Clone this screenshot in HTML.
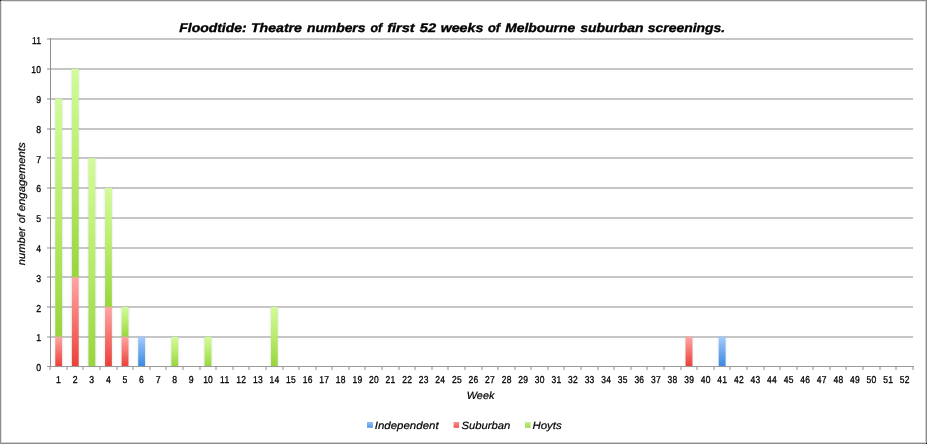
<!DOCTYPE html>
<html><head><meta charset="utf-8"><title>Floodtide chart</title>
<style>html,body{margin:0;padding:0;background:#fff;}body{width:927px;height:444px;overflow:hidden;position:relative;font-family:"Liberation Sans",sans-serif;}svg{position:absolute;left:0;top:0;display:block;will-change:transform}text{font-family:"Liberation Sans",sans-serif;fill:#000;text-rendering:geometricPrecision}</style></head><body>
<svg width="927" height="444" viewBox="0 0 927 444">
<defs>
<linearGradient id="gI" x1="0" y1="0" x2="0" y2="1"><stop offset="0" stop-color="#a4cafc"/><stop offset="1" stop-color="#3988e0"/></linearGradient>
<linearGradient id="gS" x1="0" y1="0" x2="0" y2="1"><stop offset="0" stop-color="#ffa6a4"/><stop offset="1" stop-color="#ea4036"/></linearGradient>
<linearGradient id="gH" x1="0" y1="0" x2="0" y2="1"><stop offset="0" stop-color="#d2fb9a"/><stop offset="0.45" stop-color="#bbed6f"/><stop offset="1" stop-color="#99d53e"/></linearGradient>
<linearGradient id="lI" x1="0" y1="0" x2="0" y2="1"><stop offset="0" stop-color="#92bff6"/><stop offset="1" stop-color="#5297e7"/></linearGradient>
<linearGradient id="lS" x1="0" y1="0" x2="0" y2="1"><stop offset="0" stop-color="#f99392"/><stop offset="1" stop-color="#ec524c"/></linearGradient>
<linearGradient id="lH" x1="0" y1="0" x2="0" y2="1"><stop offset="0" stop-color="#c2f284"/><stop offset="1" stop-color="#9eda4c"/></linearGradient>
<filter id="sh" x="-50%" y="-5%" width="200%" height="110%"><feGaussianBlur stdDeviation="0.8"/></filter>
</defs>
<rect x="47" y="336" width="866" height="2" fill="#c6c6c6"/>
<rect x="47" y="306" width="866" height="2" fill="#c6c6c6"/>
<rect x="47" y="276" width="866" height="2" fill="#c6c6c6"/>
<rect x="47" y="247" width="866" height="2" fill="#c6c6c6"/>
<rect x="47" y="217" width="866" height="2" fill="#c6c6c6"/>
<rect x="47" y="187" width="866" height="2" fill="#c6c6c6"/>
<rect x="47" y="157" width="866" height="2" fill="#c6c6c6"/>
<rect x="47" y="128" width="866" height="2" fill="#c6c6c6"/>
<rect x="47" y="98" width="866" height="2" fill="#c6c6c6"/>
<rect x="47" y="68" width="866" height="2" fill="#c6c6c6"/>
<rect x="47" y="38" width="866" height="2" fill="#c6c6c6"/>
<rect x="54.99" y="98.55" width="7.40" height="267.95" fill="#8c94b0" opacity="0.28" filter="url(#sh)"/>
<rect x="55.29" y="336.73" width="6.80" height="29.77" fill="url(#gS)"/>
<rect x="55.29" y="98.55" width="6.80" height="238.18" fill="url(#gH)"/>
<rect x="71.58" y="68.77" width="7.40" height="297.73" fill="#8c94b0" opacity="0.28" filter="url(#sh)"/>
<rect x="71.88" y="277.18" width="6.80" height="89.32" fill="url(#gS)"/>
<rect x="71.88" y="68.77" width="6.80" height="208.41" fill="url(#gH)"/>
<rect x="88.17" y="158.09" width="7.40" height="208.41" fill="#8c94b0" opacity="0.28" filter="url(#sh)"/>
<rect x="88.47" y="158.09" width="6.80" height="208.41" fill="url(#gH)"/>
<rect x="104.75" y="187.86" width="7.40" height="178.64" fill="#8c94b0" opacity="0.28" filter="url(#sh)"/>
<rect x="105.05" y="306.95" width="6.80" height="59.55" fill="url(#gS)"/>
<rect x="105.05" y="187.86" width="6.80" height="119.09" fill="url(#gH)"/>
<rect x="121.34" y="306.95" width="7.40" height="59.55" fill="#8c94b0" opacity="0.28" filter="url(#sh)"/>
<rect x="121.64" y="336.73" width="6.80" height="29.77" fill="url(#gS)"/>
<rect x="121.64" y="306.95" width="6.80" height="29.77" fill="url(#gH)"/>
<rect x="137.93" y="336.73" width="7.40" height="29.77" fill="#8c94b0" opacity="0.28" filter="url(#sh)"/>
<rect x="138.23" y="336.73" width="6.80" height="29.77" fill="url(#gI)"/>
<rect x="171.10" y="336.73" width="7.40" height="29.77" fill="#8c94b0" opacity="0.28" filter="url(#sh)"/>
<rect x="171.40" y="336.73" width="6.80" height="29.77" fill="url(#gH)"/>
<rect x="204.27" y="336.73" width="7.40" height="29.77" fill="#8c94b0" opacity="0.28" filter="url(#sh)"/>
<rect x="204.57" y="336.73" width="6.80" height="29.77" fill="url(#gH)"/>
<rect x="270.62" y="306.95" width="7.40" height="59.55" fill="#8c94b0" opacity="0.28" filter="url(#sh)"/>
<rect x="270.92" y="306.95" width="6.80" height="59.55" fill="url(#gH)"/>
<rect x="685.28" y="336.73" width="7.40" height="29.77" fill="#8c94b0" opacity="0.28" filter="url(#sh)"/>
<rect x="685.58" y="336.73" width="6.80" height="29.77" fill="url(#gS)"/>
<rect x="718.45" y="336.73" width="7.40" height="29.77" fill="#8c94b0" opacity="0.28" filter="url(#sh)"/>
<rect x="718.75" y="336.73" width="6.80" height="29.77" fill="url(#gI)"/>
<rect x="50" y="38" width="1" height="329" fill="#8e8e8e"/>
<rect x="47" y="366" width="867" height="1" fill="#9a9a9a"/>
<rect x="49" y="367" width="2" height="3" fill="#c6c6c6"/>
<rect x="66" y="367" width="2" height="3" fill="#c6c6c6"/>
<rect x="82" y="367" width="2" height="3" fill="#c6c6c6"/>
<rect x="99" y="367" width="2" height="3" fill="#c6c6c6"/>
<rect x="116" y="367" width="2" height="3" fill="#c6c6c6"/>
<rect x="132" y="367" width="2" height="3" fill="#c6c6c6"/>
<rect x="149" y="367" width="2" height="3" fill="#c6c6c6"/>
<rect x="165" y="367" width="2" height="3" fill="#c6c6c6"/>
<rect x="182" y="367" width="2" height="3" fill="#c6c6c6"/>
<rect x="199" y="367" width="2" height="3" fill="#c6c6c6"/>
<rect x="215" y="367" width="2" height="3" fill="#c6c6c6"/>
<rect x="232" y="367" width="2" height="3" fill="#c6c6c6"/>
<rect x="248" y="367" width="2" height="3" fill="#c6c6c6"/>
<rect x="265" y="367" width="2" height="3" fill="#c6c6c6"/>
<rect x="282" y="367" width="2" height="3" fill="#c6c6c6"/>
<rect x="298" y="367" width="2" height="3" fill="#c6c6c6"/>
<rect x="315" y="367" width="2" height="3" fill="#c6c6c6"/>
<rect x="331" y="367" width="2" height="3" fill="#c6c6c6"/>
<rect x="348" y="367" width="2" height="3" fill="#c6c6c6"/>
<rect x="364" y="367" width="2" height="3" fill="#c6c6c6"/>
<rect x="381" y="367" width="2" height="3" fill="#c6c6c6"/>
<rect x="398" y="367" width="2" height="3" fill="#c6c6c6"/>
<rect x="414" y="367" width="2" height="3" fill="#c6c6c6"/>
<rect x="431" y="367" width="2" height="3" fill="#c6c6c6"/>
<rect x="447" y="367" width="2" height="3" fill="#c6c6c6"/>
<rect x="464" y="367" width="2" height="3" fill="#c6c6c6"/>
<rect x="481" y="367" width="2" height="3" fill="#c6c6c6"/>
<rect x="497" y="367" width="2" height="3" fill="#c6c6c6"/>
<rect x="514" y="367" width="2" height="3" fill="#c6c6c6"/>
<rect x="530" y="367" width="2" height="3" fill="#c6c6c6"/>
<rect x="547" y="367" width="2" height="3" fill="#c6c6c6"/>
<rect x="563" y="367" width="2" height="3" fill="#c6c6c6"/>
<rect x="580" y="367" width="2" height="3" fill="#c6c6c6"/>
<rect x="597" y="367" width="2" height="3" fill="#c6c6c6"/>
<rect x="613" y="367" width="2" height="3" fill="#c6c6c6"/>
<rect x="630" y="367" width="2" height="3" fill="#c6c6c6"/>
<rect x="646" y="367" width="2" height="3" fill="#c6c6c6"/>
<rect x="663" y="367" width="2" height="3" fill="#c6c6c6"/>
<rect x="680" y="367" width="2" height="3" fill="#c6c6c6"/>
<rect x="696" y="367" width="2" height="3" fill="#c6c6c6"/>
<rect x="713" y="367" width="2" height="3" fill="#c6c6c6"/>
<rect x="729" y="367" width="2" height="3" fill="#c6c6c6"/>
<rect x="746" y="367" width="2" height="3" fill="#c6c6c6"/>
<rect x="763" y="367" width="2" height="3" fill="#c6c6c6"/>
<rect x="779" y="367" width="2" height="3" fill="#c6c6c6"/>
<rect x="796" y="367" width="2" height="3" fill="#c6c6c6"/>
<rect x="812" y="367" width="2" height="3" fill="#c6c6c6"/>
<rect x="829" y="367" width="2" height="3" fill="#c6c6c6"/>
<rect x="845" y="367" width="2" height="3" fill="#c6c6c6"/>
<rect x="862" y="367" width="2" height="3" fill="#c6c6c6"/>
<rect x="879" y="367" width="2" height="3" fill="#c6c6c6"/>
<rect x="895" y="367" width="2" height="3" fill="#c6c6c6"/>
<rect x="912" y="367" width="2" height="3" fill="#c6c6c6"/>
<text transform="translate(41.2,371.10) scale(0.87,1)" font-size="10" text-anchor="end" stroke="#000" stroke-width="0.3">0</text>
<text transform="translate(41.2,341.33) scale(0.87,1)" font-size="10" text-anchor="end" stroke="#000" stroke-width="0.3">1</text>
<text transform="translate(41.2,311.55) scale(0.87,1)" font-size="10" text-anchor="end" stroke="#000" stroke-width="0.3">2</text>
<text transform="translate(41.2,281.78) scale(0.87,1)" font-size="10" text-anchor="end" stroke="#000" stroke-width="0.3">3</text>
<text transform="translate(41.2,252.01) scale(0.87,1)" font-size="10" text-anchor="end" stroke="#000" stroke-width="0.3">4</text>
<text transform="translate(41.2,222.24) scale(0.87,1)" font-size="10" text-anchor="end" stroke="#000" stroke-width="0.3">5</text>
<text transform="translate(41.2,192.46) scale(0.87,1)" font-size="10" text-anchor="end" stroke="#000" stroke-width="0.3">6</text>
<text transform="translate(41.2,162.69) scale(0.87,1)" font-size="10" text-anchor="end" stroke="#000" stroke-width="0.3">7</text>
<text transform="translate(41.2,132.92) scale(0.87,1)" font-size="10" text-anchor="end" stroke="#000" stroke-width="0.3">8</text>
<text transform="translate(41.2,103.15) scale(0.87,1)" font-size="10" text-anchor="end" stroke="#000" stroke-width="0.3">9</text>
<text transform="translate(41.3,73.37) scale(0.85,1)" font-size="10" text-anchor="end" letter-spacing="0.3" stroke="#000" stroke-width="0.3">10</text>
<text transform="translate(41.3,43.60) scale(0.85,1)" font-size="10" text-anchor="end" letter-spacing="0.3" stroke="#000" stroke-width="0.3">11</text>
<text transform="translate(58.54,383.1) scale(0.87,1)" font-size="10" text-anchor="middle" stroke="#000" stroke-width="0.3">1</text>
<text transform="translate(75.13,383.1) scale(0.87,1)" font-size="10" text-anchor="middle" stroke="#000" stroke-width="0.3">2</text>
<text transform="translate(91.72,383.1) scale(0.87,1)" font-size="10" text-anchor="middle" stroke="#000" stroke-width="0.3">3</text>
<text transform="translate(108.30,383.1) scale(0.87,1)" font-size="10" text-anchor="middle" stroke="#000" stroke-width="0.3">4</text>
<text transform="translate(124.89,383.1) scale(0.87,1)" font-size="10" text-anchor="middle" stroke="#000" stroke-width="0.3">5</text>
<text transform="translate(141.48,383.1) scale(0.87,1)" font-size="10" text-anchor="middle" stroke="#000" stroke-width="0.3">6</text>
<text transform="translate(158.06,383.1) scale(0.87,1)" font-size="10" text-anchor="middle" stroke="#000" stroke-width="0.3">7</text>
<text transform="translate(174.65,383.1) scale(0.87,1)" font-size="10" text-anchor="middle" stroke="#000" stroke-width="0.3">8</text>
<text transform="translate(191.24,383.1) scale(0.87,1)" font-size="10" text-anchor="middle" stroke="#000" stroke-width="0.3">9</text>
<text transform="translate(208.12,383.1) scale(0.85,1)" font-size="10" text-anchor="middle" letter-spacing="0.3" stroke="#000" stroke-width="0.3">10</text>
<text transform="translate(224.71,383.1) scale(0.85,1)" font-size="10" text-anchor="middle" letter-spacing="0.3" stroke="#000" stroke-width="0.3">11</text>
<text transform="translate(241.30,383.1) scale(0.85,1)" font-size="10" text-anchor="middle" letter-spacing="0.3" stroke="#000" stroke-width="0.3">12</text>
<text transform="translate(257.88,383.1) scale(0.85,1)" font-size="10" text-anchor="middle" letter-spacing="0.3" stroke="#000" stroke-width="0.3">13</text>
<text transform="translate(274.47,383.1) scale(0.85,1)" font-size="10" text-anchor="middle" letter-spacing="0.3" stroke="#000" stroke-width="0.3">14</text>
<text transform="translate(291.05,383.1) scale(0.85,1)" font-size="10" text-anchor="middle" letter-spacing="0.3" stroke="#000" stroke-width="0.3">15</text>
<text transform="translate(307.64,383.1) scale(0.85,1)" font-size="10" text-anchor="middle" letter-spacing="0.3" stroke="#000" stroke-width="0.3">16</text>
<text transform="translate(324.23,383.1) scale(0.85,1)" font-size="10" text-anchor="middle" letter-spacing="0.3" stroke="#000" stroke-width="0.3">17</text>
<text transform="translate(340.81,383.1) scale(0.85,1)" font-size="10" text-anchor="middle" letter-spacing="0.3" stroke="#000" stroke-width="0.3">18</text>
<text transform="translate(357.40,383.1) scale(0.85,1)" font-size="10" text-anchor="middle" letter-spacing="0.3" stroke="#000" stroke-width="0.3">19</text>
<text transform="translate(373.99,383.1) scale(0.85,1)" font-size="10" text-anchor="middle" letter-spacing="0.3" stroke="#000" stroke-width="0.3">20</text>
<text transform="translate(390.57,383.1) scale(0.85,1)" font-size="10" text-anchor="middle" letter-spacing="0.3" stroke="#000" stroke-width="0.3">21</text>
<text transform="translate(407.16,383.1) scale(0.85,1)" font-size="10" text-anchor="middle" letter-spacing="0.3" stroke="#000" stroke-width="0.3">22</text>
<text transform="translate(423.75,383.1) scale(0.85,1)" font-size="10" text-anchor="middle" letter-spacing="0.3" stroke="#000" stroke-width="0.3">23</text>
<text transform="translate(440.33,383.1) scale(0.85,1)" font-size="10" text-anchor="middle" letter-spacing="0.3" stroke="#000" stroke-width="0.3">24</text>
<text transform="translate(456.92,383.1) scale(0.85,1)" font-size="10" text-anchor="middle" letter-spacing="0.3" stroke="#000" stroke-width="0.3">25</text>
<text transform="translate(473.51,383.1) scale(0.85,1)" font-size="10" text-anchor="middle" letter-spacing="0.3" stroke="#000" stroke-width="0.3">26</text>
<text transform="translate(490.09,383.1) scale(0.85,1)" font-size="10" text-anchor="middle" letter-spacing="0.3" stroke="#000" stroke-width="0.3">27</text>
<text transform="translate(506.68,383.1) scale(0.85,1)" font-size="10" text-anchor="middle" letter-spacing="0.3" stroke="#000" stroke-width="0.3">28</text>
<text transform="translate(523.27,383.1) scale(0.85,1)" font-size="10" text-anchor="middle" letter-spacing="0.3" stroke="#000" stroke-width="0.3">29</text>
<text transform="translate(539.85,383.1) scale(0.85,1)" font-size="10" text-anchor="middle" letter-spacing="0.3" stroke="#000" stroke-width="0.3">30</text>
<text transform="translate(556.44,383.1) scale(0.85,1)" font-size="10" text-anchor="middle" letter-spacing="0.3" stroke="#000" stroke-width="0.3">31</text>
<text transform="translate(573.03,383.1) scale(0.85,1)" font-size="10" text-anchor="middle" letter-spacing="0.3" stroke="#000" stroke-width="0.3">32</text>
<text transform="translate(589.61,383.1) scale(0.85,1)" font-size="10" text-anchor="middle" letter-spacing="0.3" stroke="#000" stroke-width="0.3">33</text>
<text transform="translate(606.20,383.1) scale(0.85,1)" font-size="10" text-anchor="middle" letter-spacing="0.3" stroke="#000" stroke-width="0.3">34</text>
<text transform="translate(622.79,383.1) scale(0.85,1)" font-size="10" text-anchor="middle" letter-spacing="0.3" stroke="#000" stroke-width="0.3">35</text>
<text transform="translate(639.37,383.1) scale(0.85,1)" font-size="10" text-anchor="middle" letter-spacing="0.3" stroke="#000" stroke-width="0.3">36</text>
<text transform="translate(655.96,383.1) scale(0.85,1)" font-size="10" text-anchor="middle" letter-spacing="0.3" stroke="#000" stroke-width="0.3">37</text>
<text transform="translate(672.55,383.1) scale(0.85,1)" font-size="10" text-anchor="middle" letter-spacing="0.3" stroke="#000" stroke-width="0.3">38</text>
<text transform="translate(689.13,383.1) scale(0.85,1)" font-size="10" text-anchor="middle" letter-spacing="0.3" stroke="#000" stroke-width="0.3">39</text>
<text transform="translate(705.72,383.1) scale(0.85,1)" font-size="10" text-anchor="middle" letter-spacing="0.3" stroke="#000" stroke-width="0.3">40</text>
<text transform="translate(722.30,383.1) scale(0.85,1)" font-size="10" text-anchor="middle" letter-spacing="0.3" stroke="#000" stroke-width="0.3">41</text>
<text transform="translate(738.89,383.1) scale(0.85,1)" font-size="10" text-anchor="middle" letter-spacing="0.3" stroke="#000" stroke-width="0.3">42</text>
<text transform="translate(755.48,383.1) scale(0.85,1)" font-size="10" text-anchor="middle" letter-spacing="0.3" stroke="#000" stroke-width="0.3">43</text>
<text transform="translate(772.06,383.1) scale(0.85,1)" font-size="10" text-anchor="middle" letter-spacing="0.3" stroke="#000" stroke-width="0.3">44</text>
<text transform="translate(788.65,383.1) scale(0.85,1)" font-size="10" text-anchor="middle" letter-spacing="0.3" stroke="#000" stroke-width="0.3">45</text>
<text transform="translate(805.24,383.1) scale(0.85,1)" font-size="10" text-anchor="middle" letter-spacing="0.3" stroke="#000" stroke-width="0.3">46</text>
<text transform="translate(821.82,383.1) scale(0.85,1)" font-size="10" text-anchor="middle" letter-spacing="0.3" stroke="#000" stroke-width="0.3">47</text>
<text transform="translate(838.41,383.1) scale(0.85,1)" font-size="10" text-anchor="middle" letter-spacing="0.3" stroke="#000" stroke-width="0.3">48</text>
<text transform="translate(855.00,383.1) scale(0.85,1)" font-size="10" text-anchor="middle" letter-spacing="0.3" stroke="#000" stroke-width="0.3">49</text>
<text transform="translate(871.58,383.1) scale(0.85,1)" font-size="10" text-anchor="middle" letter-spacing="0.3" stroke="#000" stroke-width="0.3">50</text>
<text transform="translate(888.17,383.1) scale(0.85,1)" font-size="10" text-anchor="middle" letter-spacing="0.3" stroke="#000" stroke-width="0.3">51</text>
<text transform="translate(904.76,383.1) scale(0.85,1)" font-size="10" text-anchor="middle" letter-spacing="0.3" stroke="#000" stroke-width="0.3">52</text>
<text x="179.25" y="31.7" font-size="12.4" font-weight="bold" font-style="italic" stroke="#000" stroke-width="0.35" textLength="67.30" lengthAdjust="spacingAndGlyphs">Floodtide:</text>
<text x="250.95" y="31.7" font-size="12.4" font-weight="bold" font-style="italic" stroke="#000" stroke-width="0.35" textLength="51.03" lengthAdjust="spacingAndGlyphs">Theatre</text>
<text x="306.93" y="31.7" font-size="12.4" font-weight="bold" font-style="italic" stroke="#000" stroke-width="0.35" textLength="58.54" lengthAdjust="spacingAndGlyphs">numbers</text>
<text x="370.55" y="31.7" font-size="12.4" font-weight="bold" font-style="italic" stroke="#000" stroke-width="0.35" textLength="11.69" lengthAdjust="spacingAndGlyphs">of</text>
<text x="387.16" y="31.7" font-size="12.4" font-weight="bold" font-style="italic" stroke="#000" stroke-width="0.35" textLength="27.59" lengthAdjust="spacingAndGlyphs">first</text>
<text x="419.84" y="31.7" font-size="12.4" font-weight="bold" font-style="italic" stroke="#000" stroke-width="0.35" textLength="16.38" lengthAdjust="spacingAndGlyphs">52</text>
<text x="440.69" y="31.7" font-size="12.4" font-weight="bold" font-style="italic" stroke="#000" stroke-width="0.35" textLength="42.60" lengthAdjust="spacingAndGlyphs">weeks</text>
<text x="487.93" y="31.7" font-size="12.4" font-weight="bold" font-style="italic" stroke="#000" stroke-width="0.35" textLength="12.13" lengthAdjust="spacingAndGlyphs">of</text>
<text x="505.15" y="31.7" font-size="12.4" font-weight="bold" font-style="italic" stroke="#000" stroke-width="0.35" textLength="70.02" lengthAdjust="spacingAndGlyphs">Melbourne</text>
<text x="580.23" y="31.7" font-size="12.4" font-weight="bold" font-style="italic" stroke="#000" stroke-width="0.35" textLength="63.40" lengthAdjust="spacingAndGlyphs">suburban</text>
<text x="647.76" y="31.7" font-size="12.4" font-weight="bold" font-style="italic" stroke="#000" stroke-width="0.35" textLength="77.37" lengthAdjust="spacingAndGlyphs">screenings.</text>
<text x="466.76" y="398.7" font-size="10.5" font-style="italic" stroke="#000" stroke-width="0.2" textLength="27.64" lengthAdjust="spacingAndGlyphs">Week</text>
<text x="374.70" y="428.6" font-size="10.5" font-style="italic" stroke="#000" stroke-width="0.2" textLength="63.94" lengthAdjust="spacingAndGlyphs">Independent</text>
<text x="461.49" y="428.6" font-size="10.5" font-style="italic" stroke="#000" stroke-width="0.2" textLength="48.87" lengthAdjust="spacingAndGlyphs">Suburban</text>
<text x="532.48" y="428.6" font-size="10.5" font-style="italic" stroke="#000" stroke-width="0.2" textLength="29.20" lengthAdjust="spacingAndGlyphs">Hoyts</text>
<text transform="translate(25.3,265.13) rotate(-90)" font-size="10.5" font-style="italic" stroke="#000" stroke-width="0.2" textLength="37.84" lengthAdjust="spacingAndGlyphs">number</text>
<text transform="translate(25.3,223.36) rotate(-90)" font-size="10.5" font-style="italic" stroke="#000" stroke-width="0.2" textLength="9.19" lengthAdjust="spacingAndGlyphs">of</text>
<text transform="translate(25.3,211.30) rotate(-90)" font-size="10.5" font-style="italic" stroke="#000" stroke-width="0.2" textLength="68.97" lengthAdjust="spacingAndGlyphs">engagements</text>
<rect x="367.0" y="422.0" width="5.9" height="5.8" fill="url(#lI)"/>
<rect x="453.6" y="422.0" width="5.5" height="5.8" fill="url(#lS)"/>
<rect x="525.0" y="422.1" width="5.6" height="5.7" fill="url(#lH)"/>
<rect x="0" y="0" width="927" height="1" fill="#8f8f8f"/><rect x="0" y="1" width="927" height="1" fill="#e2e2e2"/>
<rect x="0" y="0" width="1" height="444" fill="#8f8f8f"/><rect x="1" y="1" width="1" height="443" fill="#e2e2e2"/>
<rect x="925" y="1" width="1" height="443" fill="#cfcfcf"/><rect x="926" y="0" width="1" height="444" fill="#8c8c8c"/>
<rect x="1" y="442" width="925" height="1" fill="#cfcfcf"/><rect x="0" y="443" width="927" height="1" fill="#8c8c8c"/>
<rect x="0" y="0" width="1" height="1" fill="#111"/><rect x="926" y="443" width="1" height="1" fill="#111"/>
</svg></body></html>
